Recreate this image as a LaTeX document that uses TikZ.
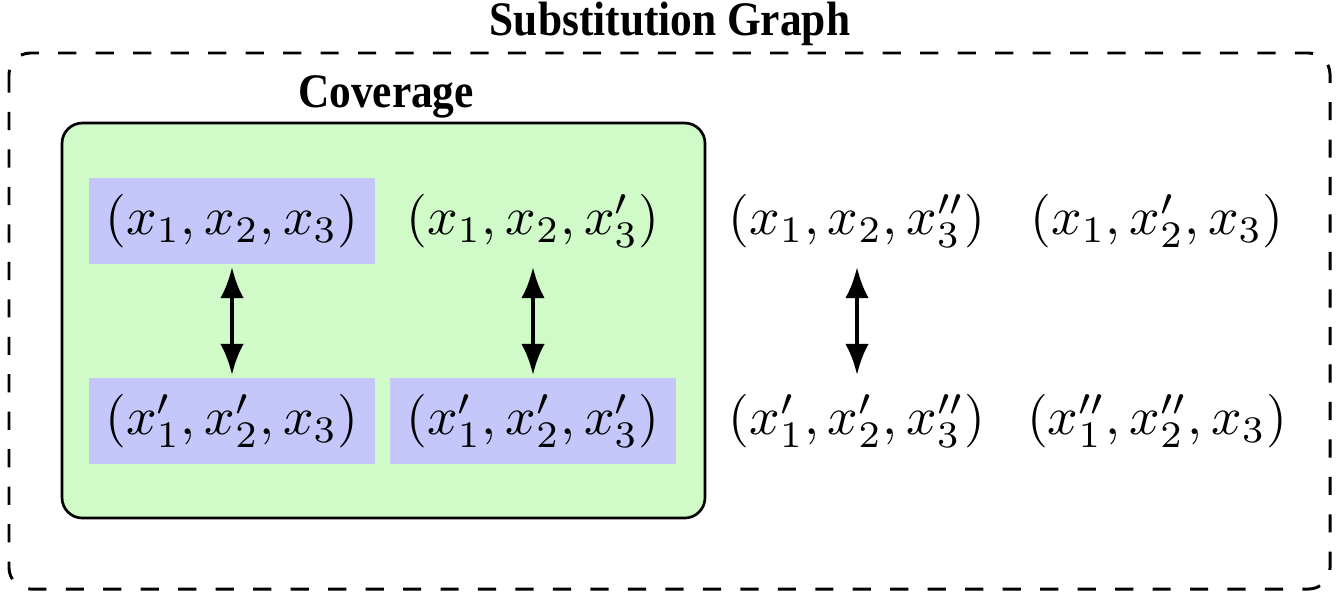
\documentclass[tikz,border=0pt]{standalone}
\usepackage{fontspec}
\usetikzlibrary{arrows.meta}
\newfontfamily\headfont{Liberation Serif}[FakeStretch=0.9]
\definecolor{coverfill}{RGB}{208,250,200}
\definecolor{tuplefill}{RGB}{197,199,250}
\begin{document}
\begin{tikzpicture}[x=0.1868pt,y=-0.1868pt,
		tuple/.style={inner xsep=0pt,inner ysep=3pt,minimum width=53.5pt},
		hit/.style={tuple,fill=tuplefill},
		swap/.style={line width=0.8pt,{Latex[length=5.8pt,width=4.4pt]}-{Latex[length=5.8pt,width=4.4pt]},shorten <=0.4pt,shorten >=0.4pt},
		heading/.style={font=\headfont\bfseries\fontsize{9}{10}\selectfont,anchor=base}]
		\useasboundingbox (0,0) rectangle (1340,596);
		% Substitution graph frame
		\draw[line width=0.55pt,dash pattern=on 3.4pt off 3.6pt,rounded corners=4pt] (9,53) rectangle (1330,589);
		\node[heading] (graph) at (670,35) {Substitution Graph};
		% Coverage region
		\draw[fill=coverfill,line width=0.5pt,rounded corners=3.8pt] (62,123) rectangle (705,518);
		\node[heading] (cover) at (386,107) {Coverage};
		% Tuples, top row
		\node[hit]   (t1) at (232,221)  {$(x_1,x_2,x_3)$};
		\node[tuple] (t2) at (533,221)  {$(x_1,x_2,x'_3)$};
		\node[tuple] (t3) at (857,221)  {$(x_1,x_2,x''_3)$};
		\node[tuple] (t4) at (1157,221) {$(x_1,x'_2,x_3)$};
		% Tuples, bottom row
		\node[hit]   (b1) at (232,421)  {$(x'_1,x'_2,x_3)$};
		\node[hit]   (b2) at (533,421)  {$(x'_1,x'_2,x'_3)$};
		\node[tuple] (b3) at (857,421)  {$(x'_1,x'_2,x''_3)$};
		\node[tuple] (b4) at (1157,421) {$(x''_1,x''_2,x_3)$};
		% Substitutions
		\foreach \c in {1,2,3}
		\draw[swap] (t\c) -- (b\c);
	\end{tikzpicture}
\end{document}
